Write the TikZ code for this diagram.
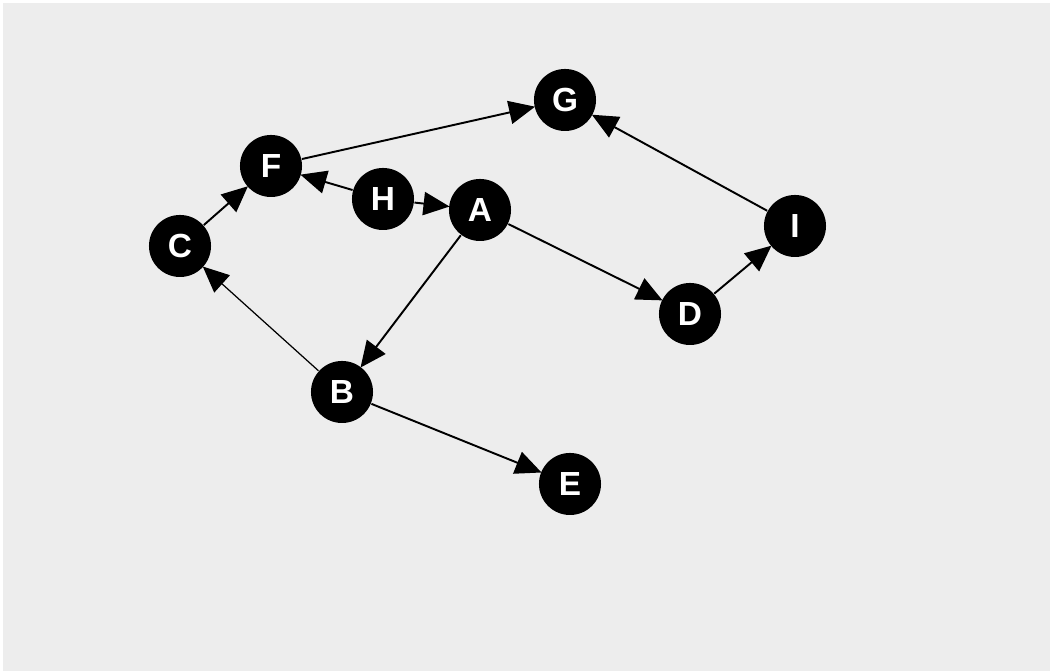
\documentclass[tikz,border=0pt]{standalone}
\usepackage{fontspec}
\setmainfont{Liberation Sans}
\usetikzlibrary{arrows.meta}
\definecolor{fond}{HTML}{EDEDED}
\tikzset{
	sommet/.style = {circle, fill=black, minimum size=0.62cm, inner sep=0pt,
		text=white, font=\fontsize{9.5}{10}\selectfont\bfseries},
	arc/.style = {line width=0.55pt, -{Triangle[length=7.4pt, width=6.6pt]}, shorten >=-0.3pt}
}
\begin{document}
\begin{tikzpicture}[x=0.01cm, y=-0.01cm]
		\useasboundingbox (0,0) rectangle (1050,671);
		\fill[white] (0,0) rectangle (1050,671);
		\fill[fond] (3,3) rectangle (1050,671);

		\foreach \nom/\x/\y in {G/565/100, F/271/166, H/383/199, A/480/210, C/180/246,
			I/795/226, D/690/314, B/342/392, E/570/484}
			\node[sommet] (\nom) at (\x,\y) {\nom};

		\foreach \de/\vers in {F/G, H/F, H/A, C/F, A/B, A/D, D/I, I/G, B/E}
			\draw[arc] (\de) -- (\vers);
		\draw[arc, line width=0.35pt] (B) -- (C);
	\end{tikzpicture}
\end{document}
